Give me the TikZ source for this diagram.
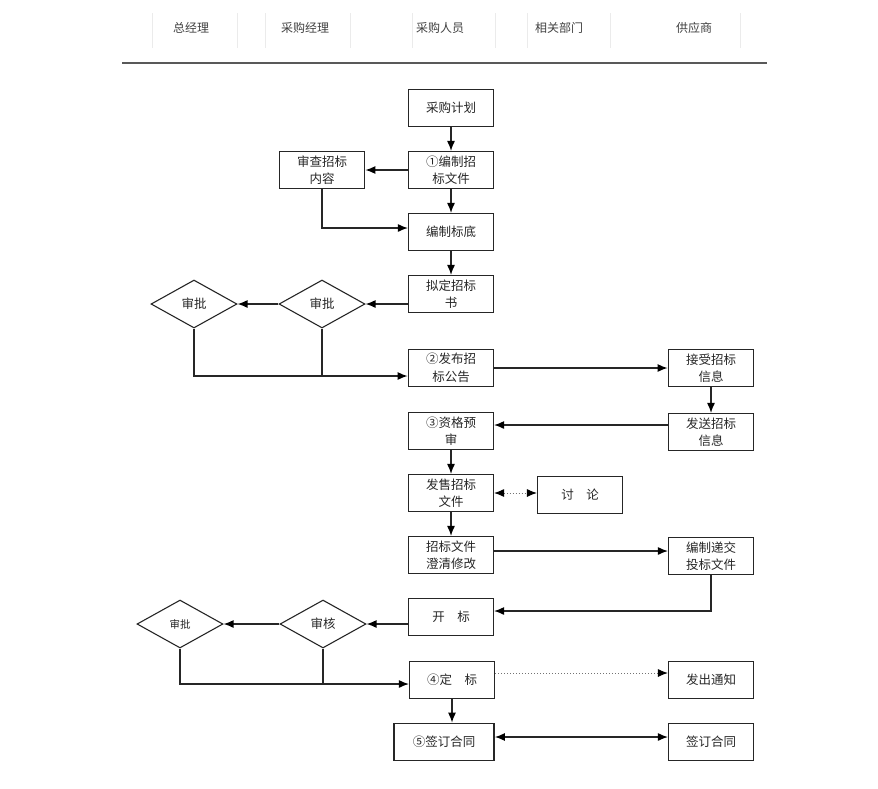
\documentclass[tikz,border=0pt]{standalone}
\usepackage{fontspec}
\newfontfamily\cjk{Noto Sans CJK SC}
\usetikzlibrary{shapes.geometric,arrows.meta}
\begin{document}
\begin{tikzpicture}[x=1pt,y=-1pt,
  every node/.style={font=\cjk\fontsize{12.5}{17.5}\selectfont, text=black!85},
  box/.style={draw=black!85, line width=1.1pt, minimum width=85pt, minimum height=37pt, inner sep=0pt, align=center},
  thickbox/.style={box, line width=1.7pt},
  dia/.style={draw=black!85, line width=1.1pt, shape=diamond, minimum width=86pt, minimum height=48pt, inner sep=0pt},
  hdr/.style={font=\cjk\fontsize{12}{14}\selectfont, text=black!75},
  sep/.style={draw=black!8, line width=0.8pt},
  conn/.style={draw=black!85, line width=1.3pt},
  tip/.tip={Latex[length=10pt,width=8pt,black]},
  arr/.style={conn, -tip},
  darr/.style={conn, tip-tip},
  dotarr/.style={draw=black!55, line width=1pt, dotted, -tip},
  dotdarr/.style={draw=black!55, line width=1pt, dotted, tip-tip}
]
\useasboundingbox (0,0) rectangle (878,788);
% header
\foreach \x in {152,237,265,350,412,495,527,610,740} \draw[sep] (\x,13) -- (\x,48);
\node[hdr] (h1) at (191,28) {总经理};
\node[hdr] (h2) at (305,28) {采购经理};
\node[hdr] (h3) at (440,28) {采购人员};
\node[hdr] (h4) at (559,28) {相关部门};
\node[hdr] (h5) at (694,28) {供应商};
\coordinate (hl) at (122,63);
\coordinate (hr) at (767,63);
\draw[draw=black!65, line width=1.2pt] (hl) -- (hr);
% nodes
\node[box] (plan) at (451,108) {采购计划};
\node[box] (f1) at (451,170) {①编制招\\标文件};
\node[thickbox] (review) at (322,170) {审查招标\\内容};
\node[box] (base) at (451,232) {编制标底};
\node[box] (draft) at (451,294) {拟定招标\\书};
\node[dia] (d1) at (322,304) {审批};
\node[dia] (d2) at (194,304) {审批};
\node[thickbox] (pub) at (451,368) {②发布招\\标公告};
\node[thickbox] (recv) at (711,368) {接受招标\\信息};
\node[box] (send) at (711,432) {发送招标\\信息};
\node[box] (qual) at (451,431) {③资格预\\审};
\node[box] (sell) at (451,493) {发售招标\\文件};
\node[box] (disc) at (580,495) {讨\quad 论};
\node[box] (clar) at (451,555) {招标文件\\澄清修改};
\node[box] (bid) at (711,556) {编制递交\\投标文件};
\node[box] (open) at (451,617) {开\quad 标};
\node[dia] (d3) at (323,624) {审核};
\node[dia, font=\cjk\fontsize{10.5}{12}\selectfont] (d4) at (180,624) {审批};
\node[box] (fix) at (452,680) {④定\quad 标};
\node[box] (notice) at (711,680) {发出通知};
\node[thickbox, minimum width=100pt] (sign) at (444,742) {⑤签订合同};
\node[box] (sign2) at (711,742) {签订合同};
% connectors
\draw[arr] (plan) -- (f1);
\draw[arr] (f1) -- (review);
\draw[arr] (f1) -- (base);
\draw[arr] (review.south) |- ([yshift=4pt]base.west);
\draw[arr] (base) -- (draft);
\draw[arr] (draft.west |- d1.east) -- (d1.east);
\draw[arr] (d1.west) -- (d2.east);
\coordinate (j1) at ([yshift=-8pt]pub.west);
\draw[arr] (d2.south) |- (j1);
\draw[conn] (d1.south) -- (d1.south |- j1);
\draw[arr] (pub) -- (recv);
\draw[arr] (recv) -- (send);
\draw[arr] ([yshift=7pt]send.west) -- ([yshift=7pt]send.west -| qual.east);
\draw[arr] (qual) -- (sell);
\draw[dotdarr] (sell.east) -- (sell.east -| disc.west);
\draw[arr] (sell) -- (clar);
\draw[arr] ([yshift=4pt]clar.east) -- ([yshift=4pt]clar.east -| bid.west);
\draw[arr] (bid.south) |- ([yshift=6pt]open.east);
\draw[arr] (open.west |- d3.east) -- (d3.east);
\draw[arr] (d3.west) -- (d4.east);
\coordinate (j2) at ([yshift=-4pt]fix.west);
\draw[arr] (d4.south) |- (j2);
\draw[conn] (d3.south) -- (d3.south |- j2);
\draw[dotarr] ([yshift=7pt]fix.east) -- ([yshift=7pt]fix.east -| notice.west);
\draw[arr] (fix.south) -- (fix.south |- sign.north);
\draw[darr] ([yshift=5pt]sign.east) -- ([yshift=5pt]sign.east -| sign2.west);
\end{tikzpicture}
\end{document}
